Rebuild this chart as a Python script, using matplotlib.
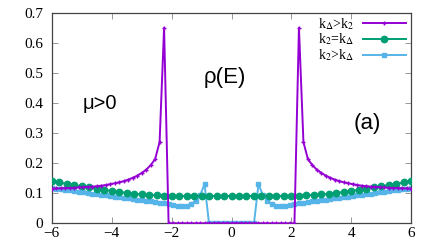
import matplotlib
matplotlib.use("Agg")
from matplotlib import pyplot as plt

# 能量格点 (k_Delta>k_2 和 k_2>k_Delta 用同一格点)
E_fine = [-6.00, -5.85, -5.70, -5.55, -5.40, -5.25, -5.10, -4.95, -4.80, -4.65,
          -4.50, -4.35, -4.20, -4.05, -3.90, -3.75, -3.60, -3.45, -3.30, -3.15,
          -3.00, -2.85, -2.70, -2.55, -2.40, -2.25, -2.10, -1.95, -1.80, -1.65,
          -1.50, -1.35, -1.20, -1.05, -0.90, -0.75, -0.60, -0.45, -0.30, -0.15,
          0.00, 0.15, 0.30, 0.45, 0.60, 0.75, 0.90, 1.05, 1.20, 1.35,
          1.50, 1.65, 1.80, 1.95, 2.10, 2.25, 2.40, 2.55, 2.70, 2.85,
          3.00, 3.15, 3.30, 3.45, 3.60, 3.75, 3.90, 4.05, 4.20, 4.35,
          4.50, 4.65, 4.80, 4.95, 5.10, 5.25, 5.40, 5.55, 5.70, 5.85, 6.00]

rho_a = [0.115, 0.116, 0.116, 0.117, 0.117, 0.118, 0.119, 0.120, 0.121, 0.122,
         0.123, 0.125, 0.127, 0.130, 0.133, 0.136, 0.140, 0.145, 0.151, 0.158,
         0.167, 0.178, 0.193, 0.213, 0.270, 0.650, 0.0, 0.0, 0.0, 0.0,
         0.0, 0.0, 0.0, 0.0, 0.0, 0.0, 0.0, 0.0, 0.0, 0.0,
         0.0, 0.0, 0.0, 0.0, 0.0, 0.0, 0.0, 0.0, 0.0, 0.0,
         0.0, 0.0, 0.0, 0.0, 0.0, 0.650, 0.270, 0.213, 0.193, 0.178,
         0.167, 0.158, 0.151, 0.145, 0.140, 0.136, 0.133, 0.130, 0.127, 0.125,
         0.123, 0.122, 0.121, 0.120, 0.119, 0.118, 0.117, 0.117, 0.116, 0.116, 0.115]

rho_c = [0.117, 0.115, 0.113, 0.111, 0.109, 0.107, 0.105, 0.103, 0.101, 0.099,
         0.097, 0.095, 0.093, 0.091, 0.089, 0.087, 0.085, 0.083, 0.081, 0.079,
         0.077, 0.075, 0.073, 0.071, 0.069, 0.066, 0.063, 0.060, 0.057, 0.056,
         0.058, 0.064, 0.075, 0.093, 0.130, 0.0, 0.0, 0.0, 0.0, 0.0,
         0.0, 0.0, 0.0, 0.0, 0.0, 0.0, 0.130, 0.093, 0.075, 0.064,
         0.058, 0.056, 0.057, 0.060, 0.063, 0.066, 0.069, 0.071, 0.073, 0.075,
         0.077, 0.079, 0.081, 0.083, 0.085, 0.087, 0.089, 0.091, 0.093, 0.095,
         0.097, 0.099, 0.101, 0.103, 0.105, 0.107, 0.109, 0.111, 0.113, 0.115, 0.117]

E_b = [-6.00, -5.75, -5.50, -5.25, -5.00, -4.75, -4.50, -4.25, -4.00, -3.75,
       -3.50, -3.25, -3.00, -2.75, -2.50, -2.25, -2.00, -1.75, -1.50, -1.25,
       -1.00, -0.75, -0.50, -0.25, 0.00, 0.25, 0.50, 0.75, 1.00, 1.25,
       1.50, 1.75, 2.00, 2.25, 2.50, 2.75, 3.00, 3.25, 3.50, 3.75,
       4.00, 4.25, 4.50, 4.75, 5.00, 5.25, 5.50, 5.75, 6.00]

rho_b = [0.141, 0.136, 0.131, 0.127, 0.123, 0.119, 0.115, 0.111, 0.108, 0.104,
         0.101, 0.098, 0.096, 0.094, 0.093, 0.092, 0.092, 0.091, 0.091, 0.091,
         0.091, 0.091, 0.091, 0.091, 0.091, 0.091, 0.091, 0.091, 0.091, 0.091,
         0.091, 0.091, 0.092, 0.092, 0.093, 0.094, 0.096, 0.098, 0.101, 0.104,
         0.108, 0.111, 0.115, 0.119, 0.123, 0.127, 0.131, 0.136, 0.141]

x_ticks = [-6, -4, -2, 0, 2, 4, 6]
x_labels = ["\u22126", "\u22124", "\u22122", "0", "2", "4", "6"]
y_ticks = [0, 0.1, 0.2, 0.3, 0.4, 0.5, 0.6, 0.7]
y_labels = ["0", "0.1", "0.2", "0.3", "0.4", "0.5", "0.6", "0.7"]

plt.rcParams["font.family"] = ["Liberation Serif", "DejaVu Serif"]
plt.rcParams["mathtext.fontset"] = "stix"
sans = ["Liberation Sans", "DejaVu Sans"]

fig = plt.figure(figsize=(4.36, 2.45), dpi=100)
ax = fig.add_axes([0.1186, 0.0886, 0.8248, 0.8596])

ax.plot(E_fine, rho_a, color="#9400D3", marker="+", markersize=3, mew=1,
        linewidth=1.4, label=r"k$_\Delta$>k$_2$", zorder=4)
ax.plot(E_b, rho_b, color="#009E73", marker="o", markersize=4.6,
        linewidth=1.4, label=r"k$_2$=k$_\Delta$", zorder=3)
ax.plot(E_fine, rho_c, color="#56B4E9", marker="s", markersize=3.2,
        linewidth=1.4, label=r"k$_2$>k$_\Delta$", zorder=2)

ax.set_xlim(-6, 6)
ax.set_ylim(0, 0.7)
ax.set_xticks(x_ticks, x_labels, fontsize=11)
ax.set_yticks(y_ticks, y_labels, fontsize=11)
ax.tick_params(direction="in", top=True, right=True, length=4, width=0.6,
               color="#888888", labelcolor="black")
ax.tick_params(axis="y", pad=6)
ax.tick_params(axis="x", pad=3)
for s in ax.spines.values():
    s.set_color("#444444")
    s.set_linewidth(0.9)

# 图中文字
ax.text(-0.23, 0.486, "\u03c1(E)", fontsize=16, family=sans, ha="center", va="center")
ax.text(-4.4, 0.398, "\u03bc>0", fontsize=14.5, family=sans, ha="center", va="center")
ax.text(4.52, 0.333, "(a)", fontsize=16, family=sans, ha="center", va="center")

leg = ax.legend(loc="upper right", bbox_to_anchor=(0.985, 0.985), frameon=False,
                markerfirst=False, fontsize=10, handlelength=3.1, handletextpad=0.6,
                labelspacing=0.0, borderaxespad=0, borderpad=0)

fig.savefig("out.png", dpi=100)
